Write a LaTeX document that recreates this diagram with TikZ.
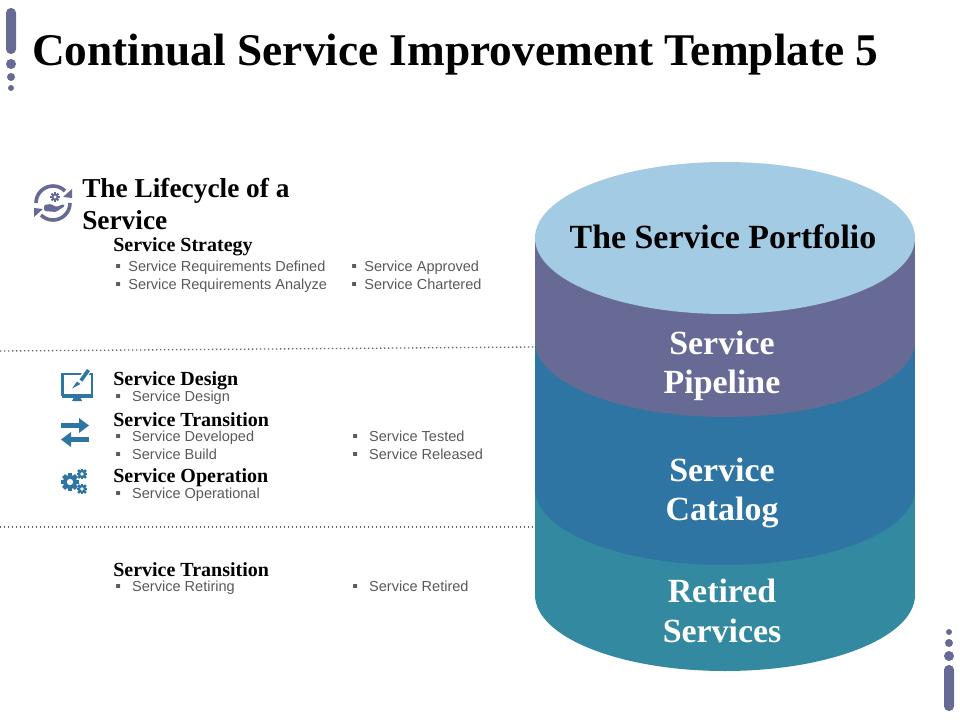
\documentclass[tikz,border=0pt]{standalone}
\usepackage{fontspec}
\setmainfont{Liberation Serif}
\setsansfont{Liberation Sans}
\definecolor{topc}{HTML}{A3CBE3}
\definecolor{pipec}{HTML}{676A94}
\definecolor{catc}{HTML}{2E75A3}
\definecolor{retc}{HTML}{33899F}
\definecolor{greyt}{HTML}{595959}
\newcommand{\bla}{\makebox[9.8pt][l]{\fontsize{12}{12}\selectfont ▪}}
\newcommand{\blb}{\makebox[12.7pt][l]{\fontsize{12}{12}\selectfont ▪}}
\tikzset{
 x=0.75pt,y=-0.75pt,
 title/.style={anchor=base west,inner sep=0pt,font=\fontsize{34}{34}\selectfont\bfseries,text=black},
 head/.style={anchor=base west,inner sep=0pt,font=\fontsize{15}{15}\selectfont\bfseries,text=black},
 big/.style={anchor=north west,inner sep=0pt,align=left,font=\fontsize{20.5}{24}\selectfont\bfseries,text=black},
 item/.style={anchor=base west,inner sep=0pt,font=\sffamily\fontsize{10.9}{12}\selectfont,text=greyt},
 stack/.style={align=center,inner sep=0pt,font=\fontsize{25.4}{29.5}\selectfont\bfseries,text=white},
 divider/.style={line width=1pt,dotted,draw=black!60},
}
\newcommand{\gearshape}[4]{%
 \foreach \a in {0,45,...,315}{\fill[#4,rotate around={\a:(#1,#2)}] ({#1-0.28*#3},{#2-1.28*#3}) rectangle ({#1+0.28*#3},{#2+1.28*#3});}
 \fill[#4] (#1,#2) circle[radius=#3];
 \fill[white] (#1,#2) circle[radius={0.45*#3}];
}
\begin{document}
\begin{tikzpicture}
\useasboundingbox (0,0) rectangle (960,720);
% corner ornaments
\fill[pipec, rounded corners=3.6pt] (6,8) rectangle (16,54);
\fill[pipec] (11,64) circle[radius=5];
\fill[pipec] (11,77) circle[radius=4];
\fill[pipec] (11,88) circle[radius=3];
\fill[pipec, rounded corners=3.6pt] (944,665) rectangle (954,711);
\fill[pipec] (949,656) circle[radius=5];
\fill[pipec] (949,643) circle[radius=4];
\fill[pipec] (949,632) circle[radius=3];
% title
\node[title] (ttl) at (32,66) {Continual Service Improvement Template 5};
% dividers
\coordinate (d1a) at (0,351); \coordinate (d1b) at (535,347);
\coordinate (d2a) at (0,527); \coordinate (d2b) at (535,527);
\draw[divider] (d1a) -- (d1b);
\draw[divider] (d2a) -- (d2b);
% cylinder
\fill[retc] (725,595) ellipse[x radius=190,y radius=76];
\fill[retc] (535,489) rectangle (915,595);
\fill[catc] (725,489) ellipse[x radius=190,y radius=76];
\fill[catc] (535,341) rectangle (915,489);
\fill[pipec] (725,341) ellipse[x radius=190,y radius=76];
\fill[pipec] (535,238) rectangle (915,341);
\fill[topc] (725,238) ellipse[x radius=190,y radius=76];
\node[stack,text=black] (sp) at (723,237) {The Service Portfolio};
\node[stack] (pipe) at (722,366) {Service\\Pipeline};
\node[stack] (cat) at (722,493) {Service\\Catalog};
\node[stack] (ret) at (722,611) {Retired\\Services};
% left text
\node[big] (life) at (82,178) {The Lifecycle of a\\Service};
\node[head] (h1) at (113,252) {Service Strategy};
\node[item] (i1) at (115,272) {\bla Service Requirements Defined};
\node[item] (i2) at (115,290) {\bla Service Requirements Analyze};
\node[item] (i3) at (351,272) {\bla Service Approved};
\node[item] (i4) at (351,290) {\bla Service Chartered};
\node[head] (h2) at (113,385) {Service Design};
\node[item] (i5) at (115,401) {\blb Service Design};
\node[head] (h3) at (113,426) {Service Transition};
\node[item] (i6) at (115,441) {\blb Service Developed};
\node[item] (i7) at (115,459) {\blb Service Build};
\node[item] (i8) at (352,441) {\blb Service Tested};
\node[item] (i9) at (352,459) {\blb Service Released};
\node[head] (h4) at (113,482) {Service Operation};
\node[item] (i10) at (115,498) {\blb Service Operational};
\node[head] (h5) at (113,576) {Service Transition};
\node[item] (i11) at (115,591) {\blb Service Retiring};
\node[item] (i12) at (352,591) {\blb Service Retired};
% lifecycle icon
\draw[pipec,line width=2.7pt] (36,203) arc[start angle=180,end angle=315,radius=17];
\draw[pipec,line width=2.7pt] (70,203) arc[start angle=0,end angle=135,radius=17];
\fill[pipec] (72,189) -- (72,198) -- (63,197) -- cycle;
\fill[pipec] (34,217) -- (34,208) -- (43,209) -- cycle;
\gearshape{55}{197}{3.6}{pipec}
\fill[pipec,rounded corners=1pt] (44,205) -- (51,204) -- (56,207) -- (64,204) -- (65,206) -- (56,212) -- (44,211) -- cycle;
% monitor icon
\draw[catc,line width=2pt] (62.5,374) rectangle (92,395);
\fill[catc] (61.5,394) rectangle (93,397.5);
\fill[catc] (74,397) -- (80,397) -- (82,401) -- (72,401) -- cycle;
\fill[white] (77,380) -- (87,366) -- (92,370) -- (82,384) -- cycle;
\fill[catc] (79.5,379.5) -- (87,369) -- (90,371) -- (82.5,381.5) -- cycle;
\fill[catc] (72,388.5) -- (77,381.5) -- (80.5,384) -- cycle;
% transfer arrows
\fill[catc] (61,423) rectangle (80,428);
\fill[catc] (79,418) -- (89,425.5) -- (79,433) -- cycle;
\fill[catc] (70,437) rectangle (89,442);
\fill[catc] (71,432) -- (61,439.5) -- (71,447) -- cycle;
% gears
\gearshape{70}{482}{7}{catc}
\gearshape{82}{474}{4.2}{catc}
\gearshape{82}{489}{4.2}{catc}
\end{tikzpicture}
\end{document}
